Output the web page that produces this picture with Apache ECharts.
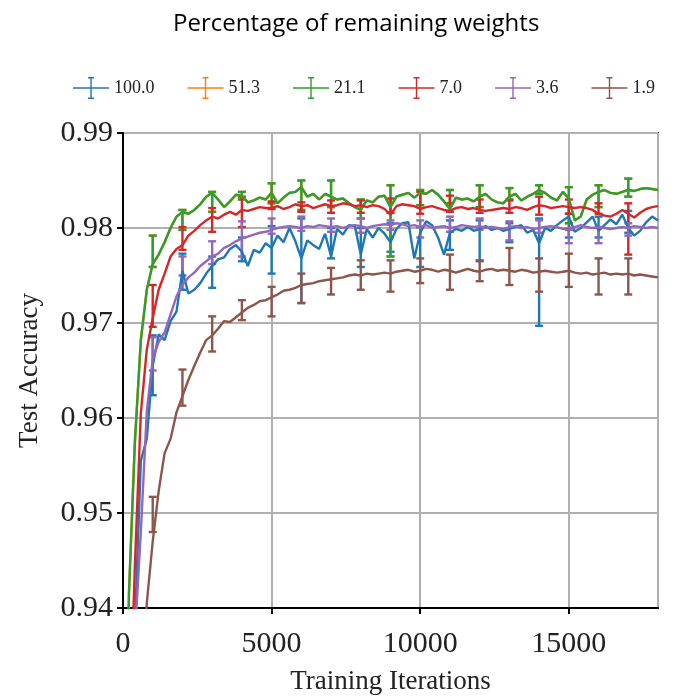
<!DOCTYPE html>
<html>
<head>
<meta charset="utf-8">
<script src="https://cdn.jsdelivr.net/npm/echarts@6/dist/echarts.min.js"></script>
<style>html,body{margin:0;padding:0;background:#fff;}#chart{width:679px;height:696px;}</style>
</head>
<body>
<div id="chart"></div>
<script>
// Training iterations at which accuracy is plotted
const iterations = [0,200,400,600,800,1000,1200,1400,1600,1800,
  2000,2200,2400,2600,2800,3000,3200,3400,3600,3800,
  4000,4200,4400,4600,4800,5000,5200,5400,5600,5800,
  6000,6200,6400,6600,6800,7000,7200,7400,7600,7800,
  8000,8200,8400,8600,8800,9000,9200,9400,9600,9800,
  10000,10200,10400,10600,10800,11000,11200,11400,11600,11800,
  12000,12200,12400,12600,12800,13000,13200,13400,13600,13800,
  14000,14200,14400,14600,14800,15000,15200,15400,15600,15800,
  16000,16200,16400,16600,16800,17000,17200,17400,17600,17800,18000];
// Iterations where min/max error bars are drawn
const errIterations = [1000,2000,3000,4000,5000,6000,7000,8000,9000,10000,11000,12000,13000,14000,15000,16000,17000];
const legendNames = ['100.0','51.3','21.1','7.0','3.6','1.9'];
const xTicks = [0,5000,10000,15000];
const yTicks = [0.94,0.95,0.96,0.97,0.98,0.99];

const acc100 = [0.9000,0.9200,0.9380,0.9555,0.9578,0.9655,0.9688,0.9682,0.9702,0.9712,
  0.9755,0.9731,0.9735,0.9742,0.9752,0.9760,0.9767,0.9769,0.9778,0.9782,
  0.9775,0.9760,0.9777,0.9774,0.9784,0.9779,0.9792,0.9785,0.9800,0.9786,
  0.9768,0.9787,0.9782,0.9778,0.9794,0.9770,0.9799,0.9793,0.9803,0.9802,
  0.9772,0.9799,0.9790,0.9800,0.9794,0.9785,0.9799,0.9805,0.9806,0.9768,
  0.9795,0.9807,0.9803,0.9790,0.9772,0.9795,0.9799,0.9797,0.9801,0.9797,
  0.9799,0.9802,0.9798,0.9800,0.9797,0.9799,0.9801,0.9803,0.9795,0.9798,
  0.9784,0.9800,0.9797,0.9803,0.9808,0.9812,0.9796,0.9800,0.9806,0.9812,
  0.9797,0.9803,0.9809,0.9804,0.9814,0.9800,0.9792,0.9797,0.9806,0.9812,0.9808];
const acc21_1 = [0.9000,0.9415,0.9575,0.9682,0.9735,0.9762,0.9772,0.9785,0.9800,0.9812,
  0.9817,0.9815,0.9819,0.9825,0.9833,0.9837,0.9830,0.9822,0.9828,0.9835,
  0.9834,0.9827,0.9829,0.9832,0.9830,0.9837,0.9826,0.9832,0.9837,0.9838,
  0.9843,0.9833,0.9836,0.9830,0.9836,0.9833,0.9830,0.9831,0.9826,0.9822,
  0.9819,0.9829,0.9827,0.9833,0.9834,0.9822,0.9833,0.9835,0.9837,0.9832,
  0.9837,0.9836,0.9840,0.9835,0.9828,0.9820,0.9832,0.9830,0.9831,0.9828,
  0.9833,0.9836,0.9830,0.9827,0.9826,0.9833,0.9836,0.9829,0.9833,0.9836,
  0.9840,0.9837,0.9832,0.9829,0.9838,0.9831,0.9808,0.9812,0.9830,0.9835,
  0.9838,0.9840,0.9837,0.9836,0.9838,0.9840,0.9839,0.9841,0.9842,0.9841,0.9840];
// 51.3 is not visible in the reference: it lies underneath the 21.1 curve
const acc51_3 = acc21_1.slice();
const acc7_0 = [0.9000,0.9250,0.9445,0.9605,0.9672,0.9705,0.9735,0.9752,0.9770,0.9778,
  0.9782,0.9792,0.9797,0.9803,0.9808,0.9812,0.9810,0.9814,0.9817,0.9814,
  0.9819,0.9818,0.9820,0.9822,0.9821,0.9821,0.9823,0.9820,0.9822,0.9825,
  0.9823,0.9824,0.9821,0.9823,0.9825,0.9823,0.9824,0.9826,0.9825,0.9823,
  0.9824,0.9822,0.9824,0.9823,0.9820,0.9814,0.9823,0.9825,0.9824,0.9823,
  0.9820,0.9822,0.9823,0.9821,0.9819,0.9818,0.9821,0.9822,0.9820,0.9821,
  0.9819,0.9818,0.9819,0.9820,0.9821,0.9820,0.9822,0.9821,0.9819,0.9822,
  0.9824,0.9823,0.9821,0.9822,0.9823,0.9822,0.9821,0.9822,0.9821,0.9819,
  0.9815,0.9813,0.9812,0.9815,0.9819,0.9815,0.9811,0.9816,0.9820,0.9822,0.9823];
const acc3_6 = [0.9000,0.9150,0.9370,0.9480,0.9607,0.9662,0.9680,0.9690,0.9709,0.9728,
  0.9740,0.9748,0.9753,0.9760,0.9765,0.9770,0.9773,0.9779,0.9782,0.9786,
  0.9789,0.9791,0.9793,0.9795,0.9796,0.9798,0.9800,0.9801,0.9802,0.9801,
  0.9800,0.9802,0.9801,0.9803,0.9802,0.9801,0.9802,0.9800,0.9802,0.9803,
  0.9802,0.9800,0.9802,0.9803,0.9804,0.9803,0.9805,0.9804,0.9802,0.9803,
  0.9801,0.9803,0.9800,0.9801,0.9802,0.9800,0.9801,0.9803,0.9802,0.9801,
  0.9802,0.9800,0.9801,0.9800,0.9799,0.9801,0.9802,0.9800,0.9801,0.9799,
  0.9800,0.9801,0.9802,0.9801,0.9799,0.9800,0.9801,0.9803,0.9801,0.9800,
  0.9801,0.9800,0.9799,0.9800,0.9801,0.9800,0.9802,0.9801,0.9800,0.9801,0.9800];
const acc1_9 = [0.8800,0.9000,0.9150,0.9200,0.9405,0.9470,0.9523,0.9563,0.9578,0.9606,
  0.9623,0.9640,0.9655,0.9669,0.9682,0.9687,0.9694,0.9702,0.9701,0.9706,
  0.9711,0.9716,0.9719,0.9723,0.9724,0.9727,0.9730,0.9734,0.9735,0.9737,
  0.9740,0.9741,0.9742,0.9744,0.9745,0.9746,0.9747,0.9748,0.9750,0.9751,
  0.9750,0.9752,0.9751,0.9752,0.9753,0.9752,0.9754,0.9755,0.9756,0.9754,
  0.9755,0.9757,0.9756,0.9754,0.9756,0.9755,0.9753,0.9755,0.9757,0.9755,
  0.9754,0.9756,0.9757,0.9755,0.9756,0.9755,0.9754,0.9756,0.9755,0.9753,
  0.9754,0.9755,0.9754,0.9753,0.9754,0.9755,0.9753,0.9752,0.9753,0.9751,
  0.9752,0.9753,0.9751,0.9752,0.9751,0.9752,0.9750,0.9751,0.9750,0.9749,0.9748];

// Error bars: minimum and maximum over trials
const lo100 = [0.9624,0.9735,0.9737,0.9765,0.9752,0.9721,0.9768,0.9759,0.9775,0.9759,0.9777,0.9765,0.9785,0.9697,0.9790,0.9790,0.9795];
const hi100 = [0.9687,0.9773,0.9770,0.9790,0.9802,0.9810,0.9800,0.9800,0.9805,0.9801,0.9808,0.9808,0.9805,0.9810,0.9815,0.9812,0.9818];
const lo21_1 = [0.9759,0.9798,0.9817,0.9830,0.9826,0.9819,0.9822,0.9810,0.9770,0.9824,0.9826,0.9822,0.9830,0.9836,0.9805,0.9822,0.9833];
const hi21_1 = [0.9792,0.9819,0.9838,0.9838,0.9847,0.9850,0.9850,0.9830,0.9845,0.9840,0.9840,0.9845,0.9842,0.9845,0.9843,0.9845,0.9852];
const lo51_3 = lo21_1.slice();
const hi51_3 = hi21_1.slice();
const lo7_0 = [0.9696,0.9777,0.9796,0.9801,0.9820,0.9817,0.9816,0.9816,0.9816,0.9815,0.9817,0.9816,0.9816,0.9814,0.9815,0.9815,0.9772];
const hi7_0 = [0.9740,0.9801,0.9821,0.9833,0.9828,0.9827,0.9829,0.9829,0.9831,0.9838,0.9834,0.9830,0.9829,0.9833,0.9830,0.9826,0.9826];
const lo3_6 = [0.9650,0.9750,0.9762,0.9770,0.9794,0.9797,0.9796,0.9795,0.9798,0.9790,0.9796,0.9798,0.9787,0.9795,0.9784,0.9784,0.9792];
const hi3_6 = [0.9685,0.9770,0.9786,0.9807,0.9810,0.9812,0.9810,0.9810,0.9808,0.9808,0.9812,0.9810,0.9807,0.9808,0.9798,0.9801,0.9805];
const lo1_9 = [0.9480,0.9613,0.9670,0.9703,0.9707,0.9721,0.9730,0.9735,0.9733,0.9742,0.9735,0.9744,0.9740,0.9733,0.9738,0.9730,0.9730];
const hi1_9 = [0.9517,0.9651,0.9707,0.9724,0.9738,0.9752,0.9758,0.9766,0.9766,0.9768,0.9772,0.9766,0.9779,0.9768,0.9773,0.9768,0.9768];

const palette = ['#1f77b4','#ff7f0e','#2ca02c','#d62728','#9467bd','#8c564b'];
const groups = [
  {name: legendNames[0], acc: acc100, lo: lo100, hi: hi100},
  {name: legendNames[1], acc: acc51_3, lo: lo51_3, hi: hi51_3},
  {name: legendNames[2], acc: acc21_1, lo: lo21_1, hi: hi21_1},
  {name: legendNames[3], acc: acc7_0, lo: lo7_0, hi: hi7_0},
  {name: legendNames[4], acc: acc3_6, lo: lo3_6, hi: hi3_6},
  {name: legendNames[5], acc: acc1_9, lo: lo1_9, hi: hi1_9}
];

function makeErrorRenderer(color) {
  return function (params, api) {
    const x = api.value(0);
    const p1 = api.coord([x, api.value(1)]);
    const p2 = api.coord([x, api.value(2)]);
    const cw = 4;
    const style = {stroke: color, lineWidth: 2.4, fill: null};
    return {type: 'group', children: [
      {type: 'line', shape: {x1: p1[0], y1: p1[1], x2: p2[0], y2: p2[1]}, style: style},
      {type: 'line', shape: {x1: p1[0] - cw, y1: p1[1], x2: p1[0] + cw, y2: p1[1]}, style: style},
      {type: 'line', shape: {x1: p2[0] - cw, y1: p2[1], x2: p2[0] + cw, y2: p2[1]}, style: style}
    ]};
  };
}

const series = [];
groups.forEach(function (g, k) {
  const color = palette[k];
  series.push({
    type: 'line', name: g.name + '_curve', silent: true,
    data: iterations.map(function (it, i) { return [it, g.acc[i]]; }),
    showSymbol: false, symbol: 'none',
    lineStyle: {color: color, width: 2.4},
    itemStyle: {color: color},
    clip: true, animation: false
  });
  series.push({
    type: 'custom', name: g.name, silent: true,
    data: errIterations.map(function (it, i) { return [it, g.lo[i], g.hi[i]]; }),
    encode: {x: 0, y: [1, 2]},
    itemStyle: {color: color},
    renderItem: makeErrorRenderer(color),
    clip: true, animation: false
  });
});

const serif = "'Liberation Serif', 'DejaVu Serif', serif";
const chart = echarts.init(document.getElementById('chart'), null, {renderer: 'canvas'});
chart.setOption({
  animation: false,
  backgroundColor: '#ffffff',
  title: {
    text: 'Percentage of remaining weights', left: 168, top: 7,
    textStyle: {fontFamily: "'Open Sans', 'Noto Sans', sans-serif", fontSize: 24, fontWeight: 'normal', color: '#000'}
  },
  legend: {
    data: legendNames, top: 72, left: 68, itemGap: 33, itemWidth: 36, itemHeight: 22,
    icon: 'path://M0,10.3h36v1.4h-36z M17.3,0h1.4v22h-1.4z M15,0h6v1.4h-6z M15,20.6h6v1.4h-6z',
    textStyle: {fontFamily: serif, fontSize: 18, color: '#222'},
    selectedMode: false
  },
  grid: {left: 123, right: 21, top: 133, bottom: 88, show: true, borderColor: '#000', borderWidth: 2,
    containLabel: false, outerBoundsMode: 'none'},
  xAxis: {
    type: 'value', min: xTicks[0], max: 18000, interval: xTicks[1] - xTicks[0],
    name: 'Training Iterations', nameLocation: 'middle', nameGap: 60,
    nameTextStyle: {fontFamily: serif, fontSize: 27, color: '#222'},
    axisLine: {show: true, onZero: false, lineStyle: {color: '#000', width: 2}},
    axisTick: {show: true, length: 6, inside: false, lineStyle: {color: '#000', width: 2}},
    axisLabel: {fontFamily: serif, fontSize: 30, color: '#222', margin: 21, showMaxLabel: false,
      formatter: function (v) { return String(v); }},
    splitLine: {show: true, lineStyle: {color: '#b0b0b0', width: 2}}
  },
  yAxis: {
    type: 'value', min: yTicks[0], max: yTicks[yTicks.length - 1], interval: 0.01,
    name: 'Test Accuracy', nameLocation: 'middle', nameGap: 80,
    nameTextStyle: {fontFamily: serif, fontSize: 27, color: '#222'},
    axisLine: {show: true, lineStyle: {color: '#000', width: 2}},
    axisTick: {show: true, length: 6, inside: false, lineStyle: {color: '#000', width: 2}},
    axisLabel: {fontFamily: serif, fontSize: 30, color: '#222', margin: 10,
      formatter: function (v) { return v.toFixed(2); }},
    splitLine: {show: true, lineStyle: {color: '#b0b0b0', width: 2}}
  },
  series: series
});
</script>
</body>
</html>
